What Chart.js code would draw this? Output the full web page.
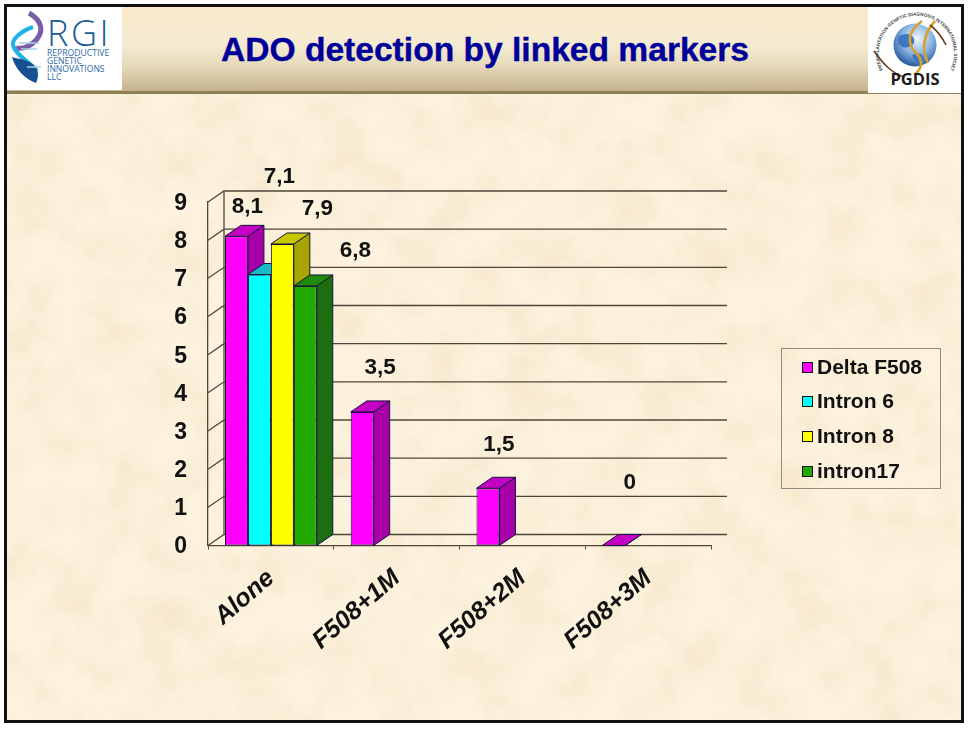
<!DOCTYPE html>
<html>
<head>
<meta charset="utf-8">
<title>ADO detection by linked markers</title>
<script src="https://cdn.jsdelivr.net/npm/chart.js@4"></script>
<style>
html,body{margin:0;padding:0;background:#fff;overflow:hidden}
#slide{position:relative;width:968px;height:731px;font-family:"Liberation Sans",Arial,sans-serif}
#paper{position:absolute;left:5px;top:5px;width:958px;height:717px;background:#fcf2de}
#head{position:absolute;left:6px;top:6px;width:956px;height:85px;
  background:linear-gradient(#fae8c8 0%,#f5ebd2 45%,#e6dabb 70%,#c5b28d 100%);border-bottom:3px solid #8d8059}
#title{position:absolute;left:0;top:30px;width:968px;padding-left:2px;box-sizing:border-box;text-align:center;font-weight:bold;font-size:33.6px;line-height:40px;color:#000099;white-space:nowrap;-webkit-text-stroke:.4px #000099}
.logo{position:absolute;background:#fff}
#frame{position:absolute;left:4px;top:4px;width:954px;height:713px;border:3px solid #111;pointer-events:none}
#chart{position:absolute;left:0;top:0}
#legend{position:absolute;left:781px;top:348px;width:158px;height:139px;border:1px solid #8f8c80}
#legend div{position:absolute;left:20px;height:24px;line-height:24px;font-weight:bold;font-size:21px;color:#111;white-space:nowrap;padding-left:15px}
#legend i{position:absolute;left:0;top:7px;width:9px;height:9px;border:1px solid #111}
</style>
</head>
<body>
<div id="slide">
  <svg id="paper" viewBox="0 0 958 717" preserveAspectRatio="none">
    <filter id="parch" x="0" y="0" width="100%" height="100%">
      <feTurbulence type="fractalNoise" baseFrequency="0.022" numOctaves="5" seed="7"/>
      <feColorMatrix type="matrix" values="0 0 0 0 0.88  0 0 0 0 0.74  0 0 0 0 0.50  2.2 0 0 0 -0.9"/>
    </filter>
    <rect width="958" height="717" filter="url(#parch)" opacity="0.5"/>
  </svg>
  <div id="head"></div>
  <div id="title">ADO detection by linked markers</div>

  <svg class="logo" style="left:7px;top:7px" width="115" height="83" viewBox="0 0 115 83">
    <path d="M22 6 C36 14 38 26 26 36 C20 41 14 42 9 41" fill="none" stroke="#7a5ea6" stroke-width="5"/>
    <path d="M26 20 C14 24 5 32 6 38 C8 48 22 54 30 64" fill="none" stroke="#1fb2e6" stroke-width="4"/>
    <path d="M5 50 C8 62 18 72 29 76 C33 68 31 60 24 56 C18 52 11 52 5 50Z" fill="#17508f"/>
    <path d="M12 36 H32 M14 42 H30 M20 60 H34" stroke="#a9cbe6" stroke-width="1.4"/>
    <text x="40" y="39" font-family="'Open Sans',sans-serif" font-weight="300" font-size="36" letter-spacing="2.5" fill="#1a5a94">RGI</text>
    <g font-family="'Open Sans',sans-serif" font-size="8.6" fill="#2b6aa5">
      <text x="40" y="49">REPRODUCTIVE</text>
      <text x="40" y="57">GENETIC</text>
      <text x="40" y="65">INNOVATIONS</text>
      <text x="40" y="73">LLC</text>
    </g>
  </svg>

  <svg class="logo" style="left:868px;top:7px" width="94" height="86" viewBox="0 0 94 86">
    <defs>
      <radialGradient id="globe" cx="55%" cy="35%" r="70%">
        <stop offset="0" stop-color="#f2f6fb"/><stop offset="0.5" stop-color="#8cb6e4"/><stop offset="1" stop-color="#1a4c96"/>
      </radialGradient>
      <path id="ring" d="M15 63 A37.5 37.5 0 1 1 82 63"/>
    </defs>
    <circle cx="47" cy="38" r="21.5" fill="url(#globe)"/>
    <path d="M30 30 C38 24 48 28 46 36 C42 42 34 42 30 36Z M44 48 C50 45 58 47 55 54 C51 58 46 55 44 48Z" fill="#3f78c0"/>
    <path d="M54 14 C40 24 38 36 48 46 C56 54 54 62 46 68" fill="none" stroke="#d8a12c" stroke-width="2.6"/>
    <path d="M67 14 C54 28 54 44 60 56" fill="none" stroke="#d8a12c" stroke-width="2.6"/>
    <path d="M6 44 C16 58 24 66 36 70" fill="none" stroke="#6b3a22" stroke-width="1.6"/>
    <path d="M62 18 C70 24 74 30 78 38" fill="none" stroke="#6b3a22" stroke-width="1.6"/>
    <text font-family="'Liberation Sans',sans-serif" font-size="4.7" font-weight="bold" fill="#444"><textPath href="#ring">PREIMPLANTATION GENETIC DIAGNOSIS INTERNATIONAL SOCIETY</textPath></text>
    <text x="47" y="78" text-anchor="middle" font-family="'Open Sans',sans-serif" font-weight="700" font-size="16.5" fill="#1c1c1c">PGDIS</text>
  </svg>

  <canvas id="chart" width="968" height="731"></canvas>
  <div id="legend"></div>
  <div id="frame"></div>
</div>

<script>
const categories = ['Alone', 'F508+1M', 'F508+2M', 'F508+3M'];
const seriesNames = ['Delta F508', 'Intron 6', 'Intron 8', 'intron17'];
const deltaF508 = [8.1, 3.5, 1.5, 0];
const intron6 = [7.1, null, null, null];
const intron8 = [7.9, null, null, null];
const intron17 = [6.8, null, null, null];
const yTicks = [0, 1, 2, 3, 4, 5, 6, 7, 8, 9];

// front, top, side
const palette = [
  ['#ff00ff', '#c400c4', '#a800a8'],
  ['#00ffff', '#14bcc8', '#0a9aa4'],
  ['#ffff00', '#c8c800', '#a8a400'],
  ['#22aa00', '#1f8a0a', '#1c6e10']
];

const depthX = 16, depthY = 11;
const wallColor = '#4e483a';
const edgeColor = '#14143c';

// where the value labels sit relative to the bar top, they are not evenly placed in the slide
const labelNudge = [
  [[11, -30], [18, -44], [11, -43], [16, -63]],
  [[20, -98]],
  [[35, -35]],
  [[50, -35]]
];

function drawSides(chart, meta, i) {
  const { ctx } = chart;
  const colors = palette[i];
  const values = chart.data.datasets[i].data;
  meta.data.forEach((bar, j) => {
    if (values[j] === null) return;
    const half = bar.width / 2;
    const l = bar.x - half, r = bar.x + half, t = bar.y, b = bar.base;
    ctx.save();
    ctx.strokeStyle = edgeColor;
    ctx.lineWidth = 1;
    ctx.fillStyle = colors[2];
    ctx.beginPath();
    ctx.moveTo(r, t);
    ctx.lineTo(r + depthX, t - depthY);
    ctx.lineTo(r + depthX, b - depthY);
    ctx.lineTo(r, b);
    ctx.closePath();
    ctx.fill();
    ctx.stroke();
    ctx.fillStyle = colors[1];
    ctx.beginPath();
    ctx.moveTo(l, t);
    ctx.lineTo(l + depthX, t - depthY);
    ctx.lineTo(r + depthX, t - depthY);
    ctx.lineTo(r, t);
    ctx.closePath();
    ctx.fill();
    ctx.stroke();
    ctx.restore();
  });
}

const walls3d = {
  id: 'walls3d',
  beforeDatasetsDraw(chart) {
    const { ctx, chartArea: a, scales: { y } } = chart;
    ctx.save();
    ctx.strokeStyle = wallColor;
    ctx.lineWidth = 1.3;
    ctx.beginPath();
    yTicks.forEach(v => {
      const py = y.getPixelForValue(v);
      ctx.moveTo(a.left, py);
      ctx.lineTo(a.left + depthX, py - depthY);
      ctx.lineTo(a.right + depthX, py - depthY);
    });
    ctx.moveTo(a.left + depthX, a.top - depthY);
    ctx.lineTo(a.left + depthX, a.bottom - depthY);
    ctx.stroke();
    ctx.restore();
    // first series at the back, the library would paint them the other way round
    chart.data.datasets.forEach((ds, i) => {
      const meta = chart.getDatasetMeta(i);
      drawSides(chart, meta, i);
      meta.controller.draw();
    });
  },
  beforeDatasetDraw() {
    return false;
  },
  afterDatasetsDraw(chart) {
    const { ctx } = chart;
    ctx.save();
    ctx.font = 'bold 22.5px "Liberation Sans"';
    ctx.fillStyle = '#111';
    ctx.textAlign = 'center';
    ctx.textBaseline = 'middle';
    chart.data.datasets.forEach((ds, i) => {
      chart.getDatasetMeta(i).data.forEach((bar, j) => {
        if (ds.data[j] === null) return;
        const n = labelNudge[i][j];
        ctx.fillText(String(ds.data[j]).replace('.', ','), bar.x + n[0], bar.y + n[1]);
      });
    });
    ctx.restore();
  }
};

const allValues = [deltaF508, intron6, intron8, intron17];

new Chart(document.getElementById('chart'), {
  type: 'bar',
  data: {
    labels: categories,
    datasets: allValues.map((vals, i) => ({
      label: seriesNames[i],
      data: vals,
      backgroundColor: palette[i][0],
      borderColor: edgeColor,
      borderWidth: 1,
      borderSkipped: false,
      categoryPercentage: 0.73,
      barPercentage: 1,
      clip: false
    }))
  },
  options: {
    responsive: false,
    animation: false,
    layout: { padding: { top: 202, right: 257, left: 0, bottom: 0 } },
    plugins: { legend: { display: false }, tooltip: { enabled: false } },
    scales: {
      x: {
        afterFit: s => { s.height = 185.5; },
        grid: { drawOnChartArea: false, drawTicks: true, tickLength: 4, color: wallColor },
        border: { display: true, color: wallColor, width: 1.3 },
        ticks: {
          color: '#111',
          font: { family: '"Liberation Sans"', size: 25, weight: 'bold', style: 'italic' },
          minRotation: 41, maxRotation: 41, padding: 14, autoSkip: false
        }
      },
      y: {
        min: 0, max: 9,
        afterFit: s => { s.width = 208; },
        afterBuildTicks: s => { s.ticks = yTicks.map(value => ({ value })); },
        grid: { display: false, drawTicks: false },
        border: { display: true, color: wallColor, width: 1.3 },
        ticks: {
          color: '#111',
          padding: 21,
          labelOffset: 1.5,
          font: { family: '"Liberation Sans"', size: 23, weight: 'bold' }
        }
      }
    }
  },
  plugins: [walls3d]
});

const legendRowTops = [6, 40, 75, 110];
document.getElementById('legend').innerHTML = seriesNames.map((name, i) =>
  `<div style="top:${legendRowTops[i]}px"><i style="background:${palette[i][0]}"></i>${name}</div>`
).join('');
</script>
</body>
</html>
